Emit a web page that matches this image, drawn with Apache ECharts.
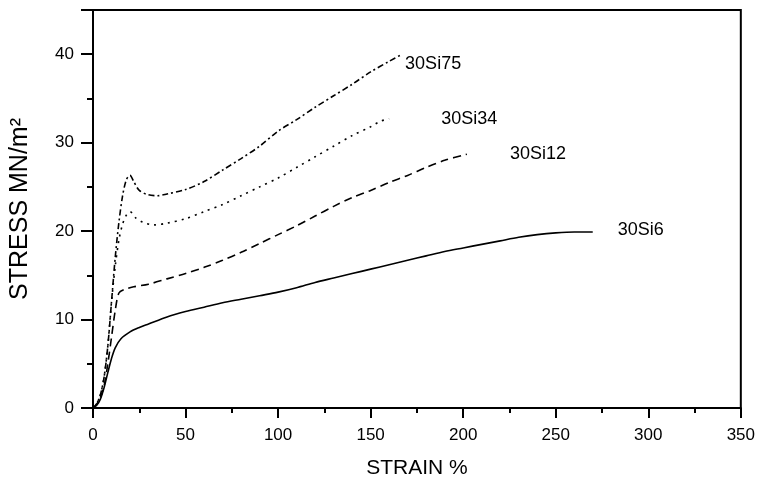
<!DOCTYPE html>
<html>
<head>
<meta charset="utf-8">
<script src="https://cdn.jsdelivr.net/npm/echarts@6/dist/echarts.min.js"></script>
<style>html,body{margin:0;padding:0;background:#fff}#c{width:758px;height:484px}</style>
</head>
<body>
<div id="c"></div>
<script>
const seriesNames = ['30Si75', '30Si34', '30Si12', '30Si6'];
const si75 = [[0,0],[2,0.5],[4,1.5],[6,3.5],[8,7],[10,12],[12,17],[14,21],[16,24],[18,25.8],[20,26.3],[22,25.6],[25,24.6],[30,24.1],[35,24.0],[40,24.2],[50,24.7],[60,25.6],[70,26.9],[80,28.2],[90,29.6],[100,31.3],[110,32.6],[120,34.0],[130,35.3],[140,36.6],[150,38.0],[160,39.2],[167,40.0]];
const si34 = [[0,0],[2,0.5],[4,1.5],[6,3.5],[8,7],[10,12],[12,16],[14,19],[16,20.8],[18,21.8],[20,22.2],[23,21.5],[27,21],[33,20.7],[40,20.9],[50,21.4],[60,22.2],[70,23.0],[80,24.0],[90,25.0],[100,26.0],[110,27.2],[120,28.4],[130,29.6],[140,30.8],[150,31.8],[155,32.4],[160,32.7]];
const si12 = [[0,0],[2,0.4],[4,1.2],[6,2.5],[8,5],[10,8],[12,11],[14,13],[17,13.4],[22,13.7],[30,14.0],[40,14.6],[50,15.2],[60,15.9],[70,16.7],[80,17.6],[90,18.6],[100,19.6],[110,20.6],[120,21.7],[130,22.8],[140,23.8],[150,24.6],[160,25.5],[170,26.3],[180,27.2],[190,28.0],[202,28.7]];
const si6 = [[0,0],[2,0.3],[4,1.0],[6,2.3],[8,4.0],[10,5.6],[12,6.8],[15,7.8],[20,8.6],[25,9.1],[30,9.5],[40,10.3],[50,10.9],[60,11.4],[70,11.9],[80,12.3],[90,12.7],[100,13.1],[110,13.6],[120,14.2],[130,14.7],[140,15.2],[150,15.7],[160,16.2],[170,16.7],[180,17.2],[190,17.7],[200,18.1],[210,18.5],[220,18.9],[230,19.3],[240,19.6],[250,19.8],[260,19.9],[270,19.9]];
const xTicks = [0, 50, 100, 150, 200, 250, 300, 350];
const yTicks = [0, 10, 20, 30, 40];

const font = 'Liberation Sans, Arial, sans-serif';
const chart = echarts.init(document.getElementById('c'));

function mkSeries(name, data, dash, offset) {
  return {
    name: name, type: 'line', data: data, showSymbol: false, symbol: 'none',
    smooth: 0.3, xAxisIndex: 0, yAxisIndex: 0,
    lineStyle: { color: '#000', width: 1.6, type: dash },
    endLabel: { show: true, formatter: name, distance: 0, offset: offset,
      color: '#000', fontSize: 18, fontFamily: font },
    animation: false
  };
}

chart.setOption({
  animation: false,
  backgroundColor: '#fff',
  grid: { left: 92, right: 16, top: 10, bottom: 76, show: true, borderColor: '#000', borderWidth: 2 },
  xAxis: [
    { type: 'value', min: 0, max: 350, interval: 25, position: 'bottom',
      name: 'STRAIN %', nameLocation: 'middle', nameGap: 50,
      nameTextStyle: { fontSize: 21, fontFamily: font, color: '#000' },
      axisLine: { show: true, lineStyle: { color: '#000', width: 2 } },
      axisTick: { show: true, length: 5, lineStyle: { color: '#000', width: 2 } },
      axisLabel: { margin: 19, fontSize: 17, fontFamily: font, color: '#000',
        formatter: v => xTicks.includes(v) ? String(v) : '' },
      splitLine: { show: false } },
    { type: 'value', min: 0, max: 350, interval: 50, position: 'bottom',
      axisLine: { show: false },
      axisTick: { show: true, length: 10, lineStyle: { color: '#000', width: 2 } },
      axisLabel: { show: false }, splitLine: { show: false } }
  ],
  yAxis: [
    { type: 'value', min: 0, max: 45, interval: 5, position: 'left',
      name: 'STRESS MN/m²', nameLocation: 'middle', nameGap: 60,
      nameTextStyle: { fontSize: 25, fontFamily: font, color: '#000' },
      axisLine: { show: true, lineStyle: { color: '#000', width: 2 } },
      axisTick: { show: true, length: 6, lineStyle: { color: '#000', width: 2 } },
      axisLabel: { margin: 19, fontSize: 17, fontFamily: font, color: '#000',
        formatter: v => yTicks.includes(v) ? String(v) : '' },
      splitLine: { show: false } },
    { type: 'value', min: 0, max: 45, interval: 10, position: 'left',
      axisLine: { show: false },
      axisTick: { show: true, length: 12, lineStyle: { color: '#000', width: 2 } },
      axisLabel: { show: false }, splitLine: { show: false } }
  ],
  series: [
    mkSeries(seriesNames[0], si75, [6, 3, 2, 3], [3, 10]),
    mkSeries(seriesNames[1], si34, [2, 5], [52, 0]),
    mkSeries(seriesNames[2], si12, [8, 5], [43, 0]),
    mkSeries(seriesNames[3], si6, 'solid', [25, -2])
  ]
});
</script>
</body>
</html>
